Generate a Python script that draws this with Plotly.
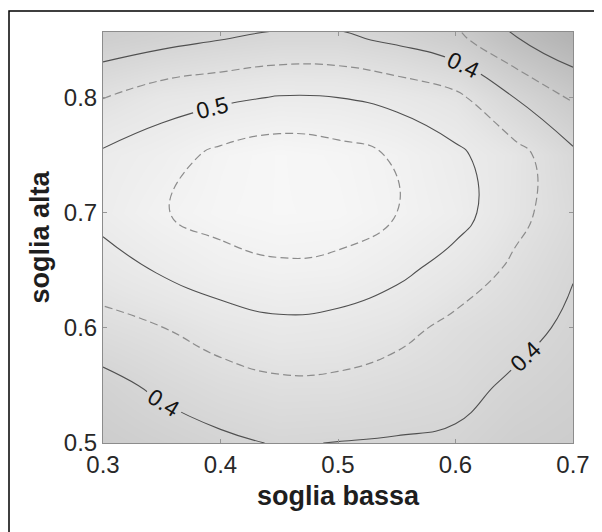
import plotly.graph_objects as go

# grid of "soglia bassa" (x) and "soglia alta" (y)
soglia_bassa = [0.30, 0.35, 0.40, 0.45, 0.50, 0.55, 0.60, 0.65, 0.70]
soglia_alta = [0.50, 0.55, 0.60, 0.65, 0.70, 0.75, 0.80, 0.85, 0.90]

# values estimated per column (x), listed from low y to high y
col_030 = [0.360, 0.385, 0.432, 0.479, 0.515, 0.507, 0.449, 0.370, 0.330]
col_035 = [0.375, 0.410, 0.449, 0.505, 0.547, 0.528, 0.478, 0.385, 0.330]
col_040 = [0.391, 0.429, 0.472, 0.530, 0.568, 0.562, 0.490, 0.400, 0.340]
col_045 = [0.403, 0.441, 0.487, 0.542, 0.578, 0.578, 0.503, 0.410, 0.350]
col_050 = [0.399, 0.440, 0.481, 0.537, 0.574, 0.568, 0.500, 0.410, 0.350]
col_055 = [0.396, 0.428, 0.465, 0.512, 0.550, 0.545, 0.485, 0.392, 0.330]
col_060 = [0.392, 0.416, 0.437, 0.479, 0.520, 0.510, 0.462, 0.364, 0.300]
col_065 = [0.370, 0.392, 0.417, 0.441, 0.465, 0.468, 0.400, 0.305, 0.250]
col_070 = [0.360, 0.375, 0.390, 0.403, 0.420, 0.410, 0.345, 0.260, 0.220]

columns = [col_030, col_035, col_040, col_045, col_050, col_055, col_060, col_065, col_070]
z = [[col[i] for col in columns] for i in range(len(soglia_alta))]

x_ticks = [0.3, 0.4, 0.5, 0.6, 0.7]
y_ticks = [0.5, 0.6, 0.7, 0.8]

FONT = "Arial, Liberation Sans, sans-serif"

grey_scale = [
    [0.0, "rgb(170,170,170)"],
    [0.38, "rgb(204,204,204)"],
    [0.70, "rgb(230,230,230)"],
    [1.0, "rgb(247,247,247)"],
]

fig = go.Figure()

# background shading
fig.add_trace(go.Contour(
    x=soglia_bassa, y=soglia_alta, z=z,
    colorscale=grey_scale, zmin=0.22, zmax=0.58,
    contours=dict(coloring="heatmap", start=0.3, end=0.55, size=0.05, showlines=False),
    line=dict(width=0),
    showscale=False, hoverinfo="skip",
))

# dashed contours 0.35, 0.45, 0.55
fig.add_trace(go.Contour(
    x=soglia_bassa, y=soglia_alta, z=z,
    contours=dict(coloring="none", start=0.35, end=0.55, size=0.1),
    line=dict(color="rgb(140,140,140)", width=1.2, dash="8px,4px", smoothing=1.3),
    showscale=False, hoverinfo="skip",
))

# solid 0.3 contour (unlabelled)
fig.add_trace(go.Contour(
    x=soglia_bassa, y=soglia_alta, z=z,
    contours=dict(coloring="none", start=0.3, end=0.3, size=0.1),
    line=dict(color="rgb(80,80,80)", width=1.1, smoothing=1.3),
    showscale=False, hoverinfo="skip",
))

# solid labelled contours 0.4, 0.5
fig.add_trace(go.Contour(
    x=soglia_bassa, y=soglia_alta, z=z,
    contours=dict(coloring="none", start=0.4, end=0.5, size=0.1,
                  showlabels=True, labelformat=".1f",
                  labelfont=dict(family=FONT, size=23, color="rgb(20,20,20)")),
    line=dict(color="rgb(80,80,80)", width=1.1, smoothing=1.3),
    showscale=False, hoverinfo="skip",
))

# page body has an 8px margin: figure sized so plot area lands at x 103-573, y 32-443
fig.update_layout(
    width=594, height=524,
    margin=dict(l=95, r=29, t=24, b=89),
    paper_bgcolor="white", plot_bgcolor="white",
    font=dict(family=FONT, size=24, color="rgb(40,40,40)"),
    showlegend=False,
    shapes=[dict(type="rect", xref="paper", yref="paper",
                 x0=-0.2, x1=1.08, y0=-0.25, y1=1.051,
                 line=dict(color="black", width=1.5), layer="below")],
)
fig.update_xaxes(
    range=[0.3, 0.7], tickvals=x_ticks, ticktext=[f"{v:.1f}" for v in x_ticks],
    ticks="inside", ticklen=4, tickcolor="rgb(150,150,150)",
    showline=True, linecolor="rgb(140,140,140)", linewidth=1, mirror="ticks",
    showgrid=False, zeroline=False,
    title=dict(text="<b>soglia bassa</b>", font=dict(size=27, color="rgb(30,30,30)"), standoff=9),
)
fig.update_yaxes(
    range=[0.5, 0.857], tickvals=y_ticks, ticktext=[f"{v:.1f}" for v in y_ticks],
    ticks="inside", ticklen=4, tickcolor="rgb(150,150,150)",
    showline=True, linecolor="rgb(140,140,140)", linewidth=1, mirror="ticks",
    showgrid=False, zeroline=False,
    title=dict(text="<b>soglia alta</b>", font=dict(size=27, color="rgb(30,30,30)"), standoff=6),
)

fig.write_html("out.html")
